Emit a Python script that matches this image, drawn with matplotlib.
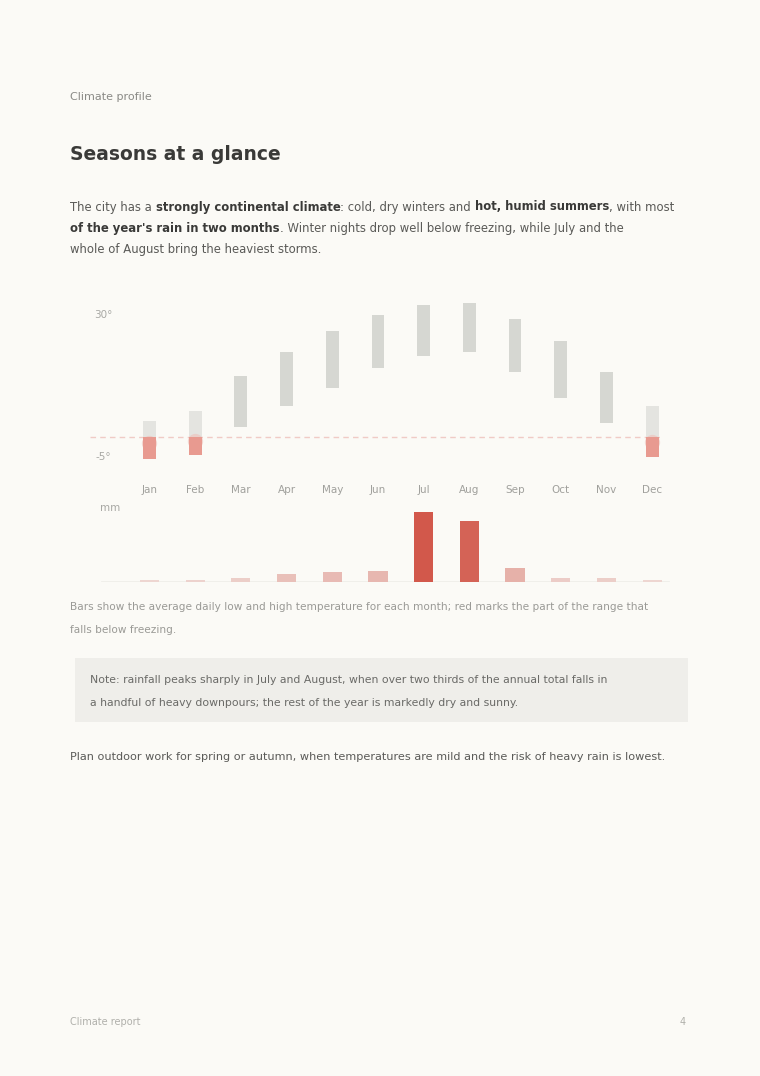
import matplotlib
matplotlib.use("Agg")
import matplotlib.pyplot as plt
import numpy as np
from matplotlib.colors import to_rgb

# ---- data ----
months = ["Jan", "Feb", "Mar", "Apr", "May", "Jun", "Jul", "Aug", "Sep", "Oct", "Nov", "Dec"]
temp_low = [-5.5, -4.5, 2.5, 7.5, 12.0, 17.0, 20.0, 21.0, 16.0, 9.5, 3.5, -5.0]
temp_high = [4.0, 6.5, 15.0, 21.0, 26.0, 30.0, 32.5, 33.0, 29.0, 23.5, 16.0, 7.5]
rain_mm = [4, 6, 9, 20, 25, 28, 170, 150, 35, 10, 9, 4]
temp_ticks = [30, -5]
freeze_line = 0

BG = "#fbfaf6"
W, H = 760, 1076
fig = plt.figure(figsize=(W / 100, H / 100), dpi=100, facecolor=BG)
renderer = fig.canvas.get_renderer()

def fy(y):
    return 1 - y / H

def fx(x):
    return x / W

def txt(x, y, s, **kw):
    return fig.text(fx(x), fy(y), s, va="center", ha=kw.pop("ha", "left"), **kw)

def rich(x, y, segments, fontsize, color, bold_color):
    cx = x
    for s, b in segments:
        t = txt(cx, y, s, fontsize=fontsize,
                color=bold_color if b else color,
                fontweight="bold" if b else "normal")
        bb = t.get_window_extent(renderer)
        cx += bb.width

# ---- header texts ----
txt(70, 97, "Climate profile", fontsize=8, color="#8a8a86")
txt(70, 155, "Seasons at a glance", fontsize=13.5, fontweight="bold", color="#3a3a38")
para = [
    [("The city has a ", False), ("strongly continental climate", True), (": cold, dry winters and ", False),
     ("hot, humid summers", True), (", with most", False)],
    [("of the year's rain in two months", True), (". Winter nights drop well below freezing, while July and the", False)],
    [("whole of August bring the heaviest storms.", False)],
]
for i, segs in enumerate(para):
    rich(70, 207 + i * 21.5, segs, 8.4, "#5a5a57", "#3a3a38")

# ---- top panel: temperature ranges ----
x = np.arange(len(months))
axT = fig.add_axes([fx(90), fy(470), fx(675) - fx(90), fy(295) - fy(470)])
axT.set_facecolor("none")
axT.set_xlim(-1.3, 11.5)
def ty(y):
    return (437 - y) / 4.067
axT.set_ylim(ty(470), ty(295))
for s in axT.spines.values():
    s.set_visible(False)
axT.set_xticks([])
axT.set_yticks([])

lo = np.array(temp_low)
hi = np.array(temp_high)
bw = 0.28
above_lo = np.maximum(lo, freeze_line)
gray = np.array(["#d6d7d2"] * len(x), dtype=object)
gray[lo < freeze_line] = "#e4e4e0"
axT.bar(x, hi - above_lo, bottom=above_lo, width=bw, color=list(gray), zorder=2)
below = lo < freeze_line
axT.bar(x[below], (freeze_line - lo)[below], bottom=lo[below], width=bw,
        color="#e89a90", zorder=3)
axT.plot(x[below], ((lo + np.minimum(hi, 2.5)) / 2)[below], "o", ms=11,
         color="#efc0b9", alpha=0.6, zorder=2.5, mec="none")
axT.axhline(freeze_line, xmin=0.0, xmax=0.98, color="#eec0ba", lw=1.0,
            ls=(0, (4, 3)), alpha=0.8, zorder=1)
for t in temp_ticks:
    axT.text(-1.0, t, f"{t}°", fontsize=7.5, color="#a8a8a4", va="center", ha="center")

# month labels
for i, m in enumerate(months):
    xp = 90 + (i + 1.3) * (585 / 12.8)
    txt(xp, 490, m, fontsize=7.5, color="#a0a09c", ha="center")

# ---- bottom panel: rainfall ----
axR = fig.add_axes([fx(90), fy(582), fx(675) - fx(90), fy(500) - fy(582)])
axR.set_facecolor("none")
axR.set_xlim(-1.3, 11.5)
axR.set_ylim(0, 200)
for s in axR.spines.values():
    s.set_visible(False)
axR.set_xticks([])
axR.set_yticks([])
rain = np.array(rain_mm, dtype=float)
c_lo = np.array(to_rgb("#f1e2de"))
c_hi = np.array(to_rgb("#d2584b"))
frac = np.sqrt(rain / rain.max())
cols = [tuple(c_lo + (c_hi - c_lo) * f ** 1.3) for f in frac]
axR.bar(x, rain, width=0.42, color=cols, zorder=2)
axR.axhline(0, xmin=0.02, xmax=0.99, color="#eeede8", lw=1.2, zorder=1)
axR.text(-0.85, 180, "mm", fontsize=7.5, color="#a8a8a4", va="center", ha="center")

# ---- caption ----
txt(70, 607, "Bars show the average daily low and high temperature for each month; red marks the part of the range that",
    fontsize=7.6, color="#9a9a96")
txt(70, 630, "falls below freezing.", fontsize=7.6, color="#9a9a96")

# ---- note box ----
box = plt.Rectangle((fx(75), fy(722)), fx(688) - fx(75), fy(658) - fy(722),
                    transform=fig.transFigure, facecolor="#efeeea", edgecolor="none")
fig.patches.append(box)
txt(90, 680, "Note: rainfall peaks sharply in July and August, when over two thirds of the annual total falls in",
    fontsize=7.8, color="#6a6a67")
txt(90, 703, "a handful of heavy downpours; the rest of the year is markedly dry and sunny.",
    fontsize=7.8, color="#6a6a67")

txt(70, 757, "Plan outdoor work for spring or autumn, when temperatures are mild and the risk of heavy rain is lowest.",
    fontsize=8.1, color="#5a5a57")

# ---- footer ----
txt(70, 1022, "Climate report", fontsize=7, color="#b0b0ab")
txt(686, 1022, "4", fontsize=7, color="#b0b0ab", ha="right")

fig.savefig("out.png", dpi=100, facecolor=BG)
